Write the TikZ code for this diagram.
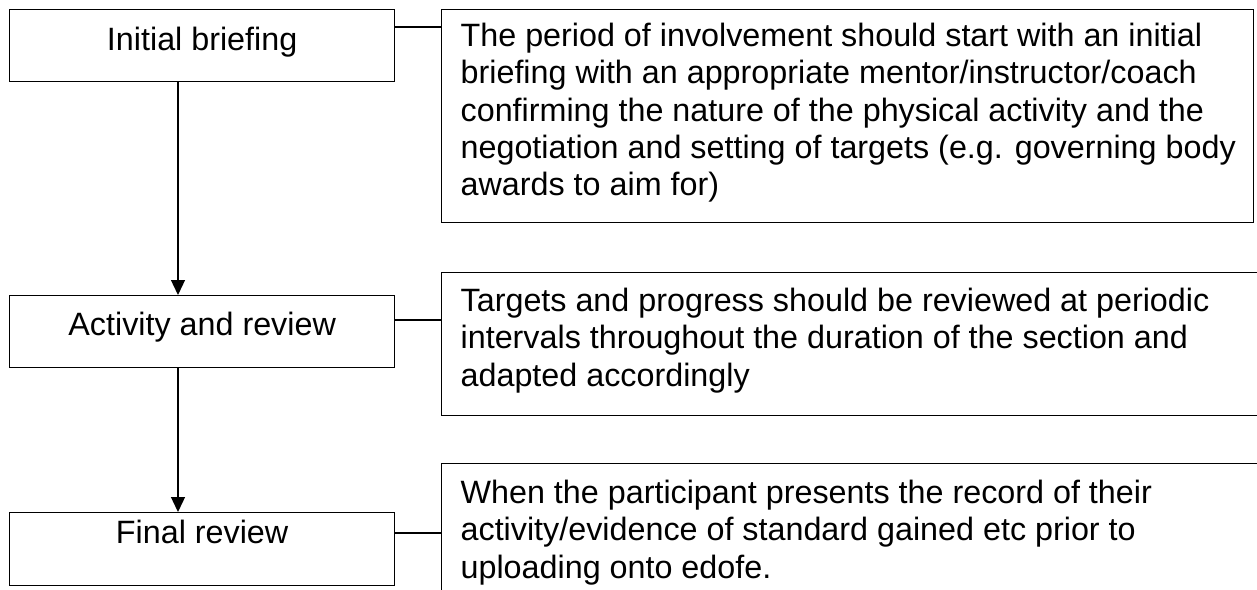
\documentclass[tikz,border=0pt]{standalone}
\usepackage{fontspec}
\setmainfont{Liberation Sans}
\usetikzlibrary{arrows.meta}
\tikzset{
  boxline/.style={draw, line width=1.3pt},
  lbox/.style={boxline, anchor=north west, minimum width=385pt, minimum height=72pt, inner xsep=0pt, inner ysep=0pt, font=\fontsize{32.3}{37.25}\selectfont},
  rbox/.style={boxline, anchor=north west, inner sep=0pt, font=\fontsize{32.3}{37.25}\selectfont},
  flow/.style={line width=1.3pt, -{Triangle[width=14pt,length=15pt]}},
  link/.style={line width=1.3pt}
}
\begin{document}
\begin{tikzpicture}[x=1pt,y=-1pt]
\useasboundingbox (0,0) rectangle (1257,589);
\clip (0,0) rectangle (1257,589);
% left boxes
\node[lbox, text height=41pt, text depth=31pt] (ib) at (9,9) {Initial briefing};
\node[lbox, text height=40pt, text depth=32pt] (ar) at (9,295) {Activity and review};
\node[lbox, text height=31pt, text depth=42pt] (fr) at (9,512) {Final review};
% right boxes
\node[rbox] (d1) at (441,9) {\parbox[c][213pt][t]{812pt}{\raggedright\leftskip=19pt
\rule{0pt}{37pt}The period of involvement should start with an initial\\
briefing with an appropriate mentor/instructor/coach\\
confirming the nature of the physical activity and the\\
negotiation and setting of targets (e.g. governing body\\
awards to aim for)}};
\node[rbox] (d2) at (441,272) {\parbox[c][143pt][t]{830pt}{\raggedright\leftskip=19pt
\rule{0pt}{39pt}Targets and progress should be reviewed at periodic\\
intervals throughout the duration of the section and\\
adapted accordingly}};
\node[rbox] (d3) at (441,463) {\parbox[c][140pt][t]{830pt}{\raggedright\leftskip=19pt
\rule{0pt}{40pt}When the participant presents the record of their\\
activity/evidence of standard gained etc prior to\\
uploading onto edofe.}};
% flow arrows
\draw[flow] (ib.south -| 178,0) -- (ar.north -| 178,0);
\draw[flow] (ar.south -| 178,0) -- (fr.north -| 178,0);
% links
\draw[link] ([yshift=-18pt]ib.north east) -- ([yshift=-18pt]ib.north east -| d1.west);
\draw[link] ([yshift=-25pt]ar.north east) -- ([yshift=-25pt]ar.north east -| d2.west);
\draw[link] ([yshift=-21pt]fr.north east) -- ([yshift=-21pt]fr.north east -| d3.west);
\end{tikzpicture}
\end{document}
